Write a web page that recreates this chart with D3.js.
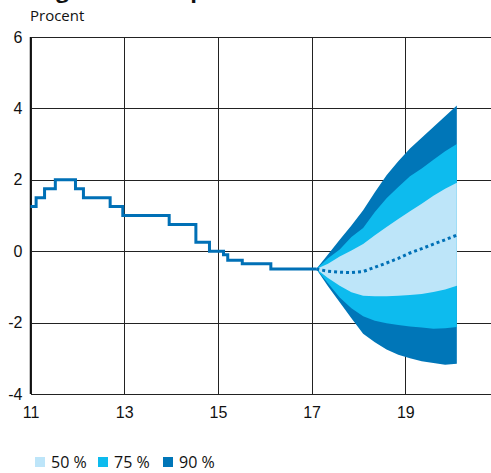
<!DOCTYPE html>
<meta charset="utf-8">
<style>
body { margin: 0; background: #fff; }
svg { font-family: "Open Sans", "Noto Sans", sans-serif; }
.grid line { stroke: #222; stroke-width: 1; shape-rendering: crispEdges; }
.grid path { display: none; }
.grid text { font-size: 16px; fill: #111; }
</style>
<svg width="491" height="473"></svg>
<script src="https://d3js.org/d3.v7.min.js"></script>
<script>
// repo rate history (step changes), decimal years from 2011
var rateDates  = [11.0, 11.12, 11.3, 11.53, 11.96, 12.13, 12.7, 12.97, 13.96, 14.53, 14.82, 15.12, 15.21, 15.52, 16.13, 17.1];
var rateValues = [1.25, 1.5, 1.75, 2.0, 1.75, 1.5, 1.25, 1.0, 0.75, 0.25, 0.0, -0.1, -0.25, -0.35, -0.5, -0.5];

// forecast with uncertainty bands
var fanDates = [17.1, 17.35, 17.6, 17.85, 18.1, 18.35, 18.6, 18.85, 19.1, 19.35, 19.6, 19.85, 20.1];
var median   = [-0.5, -0.56, -0.59, -0.6, -0.57, -0.45, -0.33, -0.2, -0.05, 0.07, 0.2, 0.32, 0.45];
var hi50     = [-0.5, -0.35, -0.15, 0.02, 0.2, 0.45, 0.68, 0.9, 1.12, 1.33, 1.55, 1.75, 1.92];
var lo50     = [-0.5, -0.75, -0.97, -1.15, -1.25, -1.26, -1.26, -1.25, -1.23, -1.2, -1.14, -1.07, -0.97];
var hi75     = [-0.5, -0.2, 0.05, 0.4, 0.65, 1.1, 1.48, 1.8, 2.1, 2.32, 2.56, 2.8, 3.0];
var lo75     = [-0.5, -0.9, -1.3, -1.6, -1.82, -1.95, -2.02, -2.07, -2.11, -2.14, -2.17, -2.16, -2.12];
var hi90     = [-0.5, -0.09, 0.32, 0.72, 1.15, 1.65, 2.13, 2.52, 2.88, 3.18, 3.48, 3.78, 4.08];
var lo90     = [-0.5, -0.98, -1.43, -1.88, -2.31, -2.55, -2.75, -2.9, -3.0, -3.08, -3.13, -3.18, -3.15];

var xTicks = [11, 13, 15, 17, 19];
var yTicks = [-4, -2, 0, 2, 4, 6];
var bandNames = ["50 %", "75 %", "90 %"];
var bandColors = ["#bde5f9", "#0dbbee", "#0076b8"];

var svg = d3.select("svg");
var plotL = 30.5, plotT = 37, plotB = 394, plotR = 499;

var x = d3.scaleLinear().domain([11, 21]).range([plotL, plotR]);
var y = d3.scaleLinear().domain([-4, 6]).range([plotB, plotT]);

// title (cut off at the top in the original, only descenders show)
svg.append("text")
    .attr("x", 20).attr("y", -2)
    .attr("font-size", 22).attr("font-weight", "bold")
    .attr("fill", "#111")
    .text("Diagram 1.1. Reporänta med osäkerhetsintervall");

svg.append("text")
    .attr("x", 30).attr("y", 21)
    .attr("font-size", 15).attr("fill", "#111")
    .text("Procent");

// grid
svg.append("g")
    .attr("class", "grid")
    .attr("transform", "translate(" + plotL + ",0)")
    .call(d3.axisLeft(y).tickValues(yTicks).tickSize(-(plotR - plotL)).tickPadding(8).tickFormat(function(d) { return String(d); }));

svg.append("g")
    .attr("class", "grid")
    .attr("transform", "translate(0," + plotB + ")")
    .call(d3.axisBottom(x).tickValues(xTicks).tickSize(-(plotB - plotT)).tickPadding(13).tickFormat(function(d) { return String(d); }));

// left axis line
svg.append("line")
    .attr("x1", plotL).attr("x2", plotL).attr("y1", plotT).attr("y2", plotB)
    .attr("stroke", "#111").attr("stroke-width", 1.5);

// fan
var fan = fanDates.map(function(d, i) {
  return {t: d, m: median[i], h50: hi50[i], l50: lo50[i], h75: hi75[i], l75: lo75[i], h90: hi90[i], l90: lo90[i]};
});
var bands = [["l90", "h90", 2], ["l75", "h75", 1], ["l50", "h50", 0]];
bands.forEach(function(b) {
  svg.append("path")
      .datum(fan)
      .attr("fill", bandColors[b[2]])
      .attr("d", d3.area()
        .x(function(d) { return x(d.t); })
        .y0(function(d) { return y(d[b[0]]); })
        .y1(function(d) { return y(d[b[1]]); }));
});

svg.append("path")
    .datum(fan)
    .attr("fill", "none")
    .attr("stroke", "#0070b6")
    .attr("stroke-width", 3)
    .attr("stroke-dasharray", "3,3")
    .attr("d", d3.line().x(function(d) { return x(d.t); }).y(function(d) { return y(d.m); }));

// history
var hist = rateDates.map(function(d, i) { return [d, rateValues[i]]; });
svg.append("path")
    .datum(hist)
    .attr("fill", "none")
    .attr("stroke", "#0070b6")
    .attr("stroke-width", 3)
    .attr("d", d3.line().curve(d3.curveStepAfter)
      .x(function(d) { return x(d[0]); }).y(function(d) { return y(d[1]); }));

// legend
var legend = svg.append("g").attr("transform", "translate(35,457)");
var lx = [0, 63, 128];
bandNames.forEach(function(n, i) {
  legend.append("rect")
      .attr("x", lx[i]).attr("y", 0).attr("width", 10).attr("height", 10)
      .attr("fill", bandColors[i]);
  legend.append("text")
      .attr("x", lx[i] + 16).attr("y", 11)
      .attr("font-size", 16).attr("fill", "#111")
      .text(n);
});
</script>
